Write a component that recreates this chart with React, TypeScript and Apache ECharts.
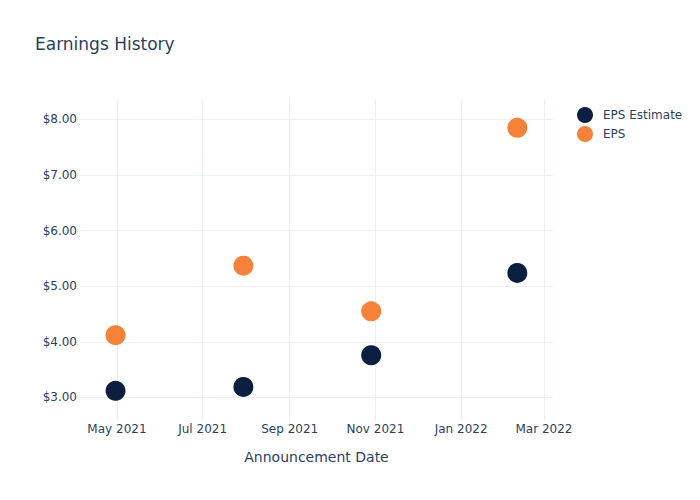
import React, { useEffect, useRef } from "react";
import * as echarts from "echarts";

const dates = ["2021-04-30", "2021-07-30", "2021-10-29", "2022-02-10"];
const epsEstimate = [3.12, 3.19, 3.76, 5.24];
const eps = [4.12, 5.37, 4.55, 7.85];
const xTicks = ["2021-05-01", "2021-07-01", "2021-09-01", "2021-11-01", "2022-01-01", "2022-03-01"];
const yTicks = [3, 4, 5, 6, 7, 8];
const monthNames = ["Jan", "Feb", "Mar", "Apr", "May", "Jun", "Jul", "Aug", "Sep", "Oct", "Nov", "Dec"];

const toMs = (s: string) => {
  const [y, m, d] = s.split("-").map(Number);
  return Date.UTC(y, m - 1, d);
};
const DAY = 86400000;

export default function App() {
  const ref = useRef<HTMLDivElement>(null);
  useEffect(() => {
    if (!ref.current) return;
    const chart = echarts.init(ref.current, undefined, { renderer: "svg" });
    const txt = "#2a3f5f";
    const font = "DejaVu Sans";
    const tickMs = xTicks.map(toMs);
    chart.setOption({
      animation: false,
      backgroundColor: "#fff",
      textStyle: { fontFamily: font },
      title: {
        text: "Earnings History",
        left: 22,
        top: 22,
        textStyle: { fontSize: 17, fontWeight: "normal", color: txt, fontFamily: font },
      },
      legend: {
        orient: "vertical",
        left: 564,
        top: 94,
        itemWidth: 26,
        itemHeight: 16,
        itemGap: 3,
        icon: "circle",
        textStyle: { fontSize: 12, color: txt, fontFamily: font },
        data: ["EPS Estimate", "EPS"],
      },
      grid: { left: 72, top: 92, width: 473, height: 320, containLabel: false },
      xAxis: {
        type: "value",
        min: toMs("2021-05-01") - 26.3 * DAY,
        max: toMs("2022-03-01") + 6.4 * DAY,
        name: "Announcement Date",
        nameLocation: "middle",
        nameGap: 30,
        nameTextStyle: { fontSize: 14, color: txt, fontFamily: font },
        axisLine: { show: false },
        axisTick: { show: false, customValues: tickMs },
        axisLabel: {
          customValues: tickMs,
          margin: 3,
          fontSize: 12,
          color: txt,
          fontFamily: font,
          formatter: (v: number) => {
            const d = new Date(v);
            return monthNames[d.getUTCMonth()] + " " + d.getUTCFullYear();
          },
        },
        splitLine: { show: true, lineStyle: { color: "#ebf0f8", width: 1 } },
      },
      yAxis: {
        type: "value",
        min: 2.595,
        max: 8.35,
        axisLine: { show: false },
        axisTick: { show: false, customValues: yTicks },
        axisLabel: {
          customValues: yTicks,
          margin: 3,
          fontSize: 12,
          color: txt,
          fontFamily: font,
          formatter: (v: number) => "$" + v.toFixed(2),
        },
        splitLine: { show: true, lineStyle: { color: "#ebf0f8", width: 1 } },
      },
      series: [
        {
          name: "EPS Estimate",
          type: "scatter",
          symbolSize: 20,
          itemStyle: { color: "#0d1f41", opacity: 1 },
          data: dates.map((d, i) => [toMs(d), epsEstimate[i]]),
        },
        {
          name: "EPS",
          type: "scatter",
          symbolSize: 20,
          itemStyle: { color: "#f58238", opacity: 1 },
          data: dates.map((d, i) => [toMs(d), eps[i]]),
        },
      ],
    });
    return () => chart.dispose();
  }, []);
  return <div ref={ref} style={{ width: 700, height: 500 }} />;
}
